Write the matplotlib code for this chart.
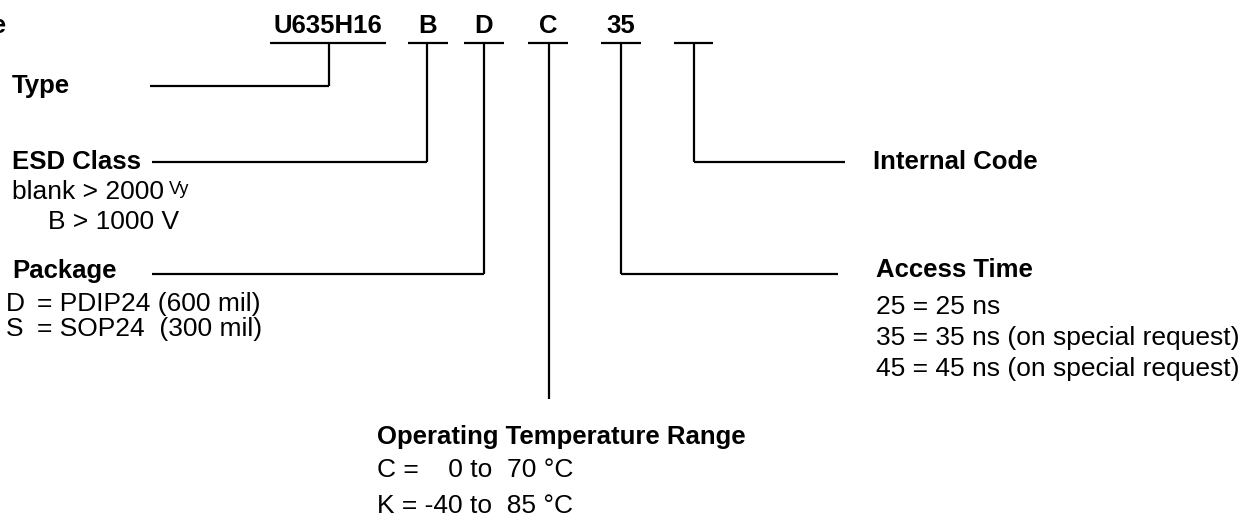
import matplotlib.pyplot as plt

plt.rcParams['font.family'] = ['Liberation Sans', 'DejaVu Sans']

# ordering code fields
code_parts = ['U635H16', 'B', 'D', 'C', '35', '']
bar_left = [270, 408, 464, 528, 601, 674]
bar_right = [386, 448, 504, 568, 641, 713]
stem_x = [329, 427, 484, 549, 621, 694]
stem_end = [86, 162, 274, 399, 274, 162]

# leader lines (x start, x end, y)
leaders = [(150, 329, 86), (152, 427, 162), (152, 484, 274), (694, 845, 162), (621, 838, 274)]

headings = ['Type', 'ESD Class', 'Package', 'Internal Code', 'Access Time', 'Operating Temperature Range']
head_base = [(12, 93), (12, 169), (12, 278), (873, 169), (876, 277), (377, 444)]

esd_lines = ['blank > 2000 ', 'B > 1000 V']
pkg_codes = ['D', 'S']
pkg_desc = ['= PDIP24 (600 mil)', '= SOP24  (300 mil)']
access_lines = ['25 = 25 ns', '35 = 35 ns (on special request)', '45 = 45 ns (on special request)']
temp_lines = ['C =    0 to  70 \u00b0C', 'K = -40 to  85 \u00b0C']

FS = 19
FSB = 18.5

fig = plt.figure(figsize=(12.6, 5.19), dpi=100)
ax = fig.add_axes([0, 0, 1, 1])
ax.set_xlim(0, 1260)
ax.set_ylim(519, 0)
ax.axis('off')

lw = 1.6
for name, l, r, x, y2 in zip(code_parts, bar_left, bar_right, stem_x, stem_end):
    ax.plot([l, r], [43, 43], color='black', lw=lw, solid_capstyle='butt')
    ax.plot([x, x], [43, y2], color='black', lw=lw, solid_capstyle='butt')
    if name:
        ax.text((l + r) / 2, 33, name, ha='center', va='baseline', fontsize=FSB, fontweight='bold')

for x1, x2, y in leaders:
    ax.plot([x1, x2], [y, y], color='black', lw=lw, solid_capstyle='butt')

for h, (x, y) in zip(headings, head_base):
    ax.text(x, y, h, ha='left', va='baseline', fontsize=FSB, fontweight='bold')

# partial title at the left edge
ax.text(6, 33, 'Ordering Code', ha='right', va='baseline', fontsize=FSB, fontweight='bold')

t = ax.text(12, 199, esd_lines[0], ha='left', va='baseline', fontsize=FS)
fig.canvas.draw()
bb = t.get_window_extent()
ax.text(bb.x1 - 2, 181, 'Vy', ha='left', va='top', fontsize=13)
ax.text(48, 229, esd_lines[1], ha='left', va='baseline', fontsize=FS)

for i, (c, d) in enumerate(zip(pkg_codes, pkg_desc)):
    y = 311 + 25 * i
    ax.text(6, y, c, ha='left', va='baseline', fontsize=FS)
    ax.text(37, y, d, ha='left', va='baseline', fontsize=FS)

for i, s in enumerate(access_lines):
    ax.text(876, 314 + 31 * i, s, ha='left', va='baseline', fontsize=FS)

for i, s in enumerate(temp_lines):
    ax.text(377, 477 + 36 * i, s, ha='left', va='baseline', fontsize=FS)

fig.savefig('out.png', dpi=100)
